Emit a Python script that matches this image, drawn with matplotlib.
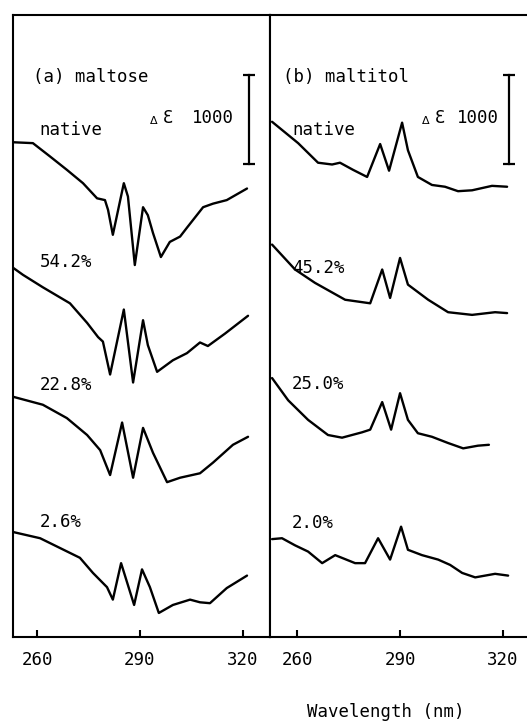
import matplotlib
matplotlib.use("Agg")
import matplotlib.pyplot as plt

# CD spectra (delta epsilon, traces stacked with offsets)
# (a) maltose
wl_a_native = [253.0, 258.8, 263.8, 268.7, 273.4, 277.5, 279.8, 280.7, 282.1, 285.3, 286.5,
               288.5, 290.9, 292.3, 293.8, 296.1, 298.7, 301.7, 303.7, 308.4, 311.3, 315.3, 321.2]
de_a_native = [5560, 5550, 5400, 5250, 5100, 4930, 4910, 4800, 4520, 5100, 4950,
               4180, 4830, 4740, 4540, 4270, 4440, 4500, 4600, 4830, 4870, 4910, 5040]

wl_a_542 = [253.0, 255.9, 261.7, 269.6, 274.6, 277.8, 279.2, 281.3, 285.3, 288.0,
            290.9, 292.3, 295.0, 299.6, 303.7, 307.5, 309.8, 314.8, 321.5]
de_a_542 = [4150, 4070, 3930, 3750, 3530, 3370, 3320, 2950, 3680, 2860,
            3560, 3280, 2980, 3110, 3190, 3310, 3270, 3410, 3610]

wl_a_228 = [253.0, 261.7, 268.7, 274.6, 278.4, 281.3, 284.8, 288.0, 290.9, 293.8,
            297.9, 301.7, 307.5, 311.3, 317.1, 321.5]
de_a_228 = [2700, 2610, 2460, 2270, 2100, 1820, 2410, 1790, 2350, 2070,
            1740, 1790, 1840, 1960, 2160, 2250]

wl_a_26 = [253.0, 260.9, 266.7, 272.5, 276.3, 280.4, 282.1, 284.5, 288.3, 290.6, 292.9,
           295.5, 299.6, 304.6, 307.5, 310.4, 315.3, 321.2]
de_a_26 = [1180, 1110, 1000, 890, 720, 560, 420, 830, 360, 760, 560,
           270, 360, 420, 390, 380, 550, 690]

# (b) maltitol
wl_b_native = [252.7, 256.5, 260.3, 266.1, 270.2, 272.5, 276.3, 280.4, 284.2, 286.8,
               290.6, 292.3, 295.2, 299.3, 303.1, 306.9, 311.0, 316.8, 321.2]
de_b_native = [5790, 5670, 5550, 5330, 5310, 5330, 5250, 5170, 5540, 5240,
               5780, 5470, 5170, 5080, 5060, 5010, 5020, 5070, 5060]

wl_b_452 = [252.7, 259.4, 265.2, 274.0, 281.3, 284.8, 287.1, 290.0, 292.3, 298.2,
            304.0, 311.0, 317.7, 321.2]
de_b_452 = [4410, 4130, 3980, 3790, 3750, 4130, 3810, 4260, 3960, 3790,
            3650, 3620, 3650, 3640]

wl_b_250 = [252.7, 257.4, 263.2, 269.0, 273.1, 278.9, 281.3, 284.8, 287.4, 290.0,
            292.3, 295.2, 299.3, 304.0, 308.4, 312.7, 315.9]
de_b_250 = [2910, 2660, 2440, 2270, 2240, 2300, 2330, 2640, 2330, 2740,
            2440, 2290, 2250, 2180, 2120, 2150, 2160]

wl_b_20 = [252.7, 255.6, 259.4, 263.2, 267.3, 271.1, 276.9, 279.8, 283.6, 287.1, 290.3,
           292.3, 296.4, 301.1, 304.6, 308.1, 311.9, 317.7, 321.5]
de_b_20 = [1100, 1110, 1030, 960, 830, 920, 830, 830, 1110, 870, 1240,
           980, 920, 870, 810, 720, 670, 710, 690]

labels_a = ["native", "54.2%", "22.8%", "2.6%"]
labels_b = ["native", "45.2%", "25.0%", "2.0%"]
label_y_a = [5700, 4215, 2830, 1290]
label_y_b = [5700, 4150, 2845, 1280]
ticks = [260, 290, 320]

font = ["DejaVu Sans Mono", "DejaVu Sans"]
fs = 12.5

fig = plt.figure(figsize=(5.27, 7.23), dpi=100)
ax1 = fig.add_axes([13 / 527, 1 - 637 / 723, 257 / 527, 622 / 723])
ax2 = fig.add_axes([270 / 527, 1 - 637 / 723, 257 / 527, 622 / 723])

curves_a = [(wl_a_native, de_a_native), (wl_a_542, de_a_542),
            (wl_a_228, de_a_228), (wl_a_26, de_a_26)]
curves_b = [(wl_b_native, de_b_native), (wl_b_452, de_b_452),
            (wl_b_250, de_b_250), (wl_b_20, de_b_20)]

panels = [
    (ax1, curves_a, labels_a, label_y_a, "(a) maltose", (253.0, 327.9), 260.8, 258.8,
     (292.9, 296.7, 305.2)),
    (ax2, curves_b, labels_b, label_y_b, "(b) maltitol", (252.1, 327.0), 258.5, 255.9,
     (296.4, 300.2, 306.6)),
]

for ax, curves, labels, ly, title, xlim, lx, tx, de_x in panels:
    for wl, de in curves:
        ax.plot(wl, de, color="black", lw=1.7, solid_joinstyle="round",
                solid_capstyle="round")
    for t, y in zip(labels, ly):
        ax.text(lx, y, t, fontsize=fs, family=font, va="center", ha="left")
    ax.text(tx, 6294, title, fontsize=fs, family=font, va="center", ha="left")
    # scale bar: delta epsilon 1000
    ax.plot([321.8, 321.8], [5317, 6317], color="black", lw=1.6)
    ax.plot([321.8, 321.8], [5317, 6317], ls="none", marker="_", ms=8, mew=1.6,
            color="black")
    ax.text(de_x[0], 5800, "\u0394", fontsize=8, family="DejaVu Sans",
            va="center", ha="left")
    ax.text(de_x[1], 5834, "\u0190", fontsize=fs, family="DejaVu Sans Mono",
            va="center", ha="left")
    ax.text(de_x[2], 5834, "1000", fontsize=fs, family=font, va="center", ha="left")
    ax.set_xlim(*xlim)
    ax.set_ylim(0, 6990)
    ax.set_yticks([])
    ax.set_xticks(ticks)
    ax.set_xticklabels([str(t) for t in ticks], fontsize=fs, family=font)
    ax.tick_params(axis="x", direction="in", length=5, width=1.5, pad=10)
    for s in ax.spines.values():
        s.set_linewidth(1.5)

ax2.spines["right"].set_visible(False)
fig.text(386 / 527, 1 - 712 / 723, "Wavelength (nm)", fontsize=fs, family=font,
         ha="center", va="center")

fig.savefig("out.png", dpi=100)
